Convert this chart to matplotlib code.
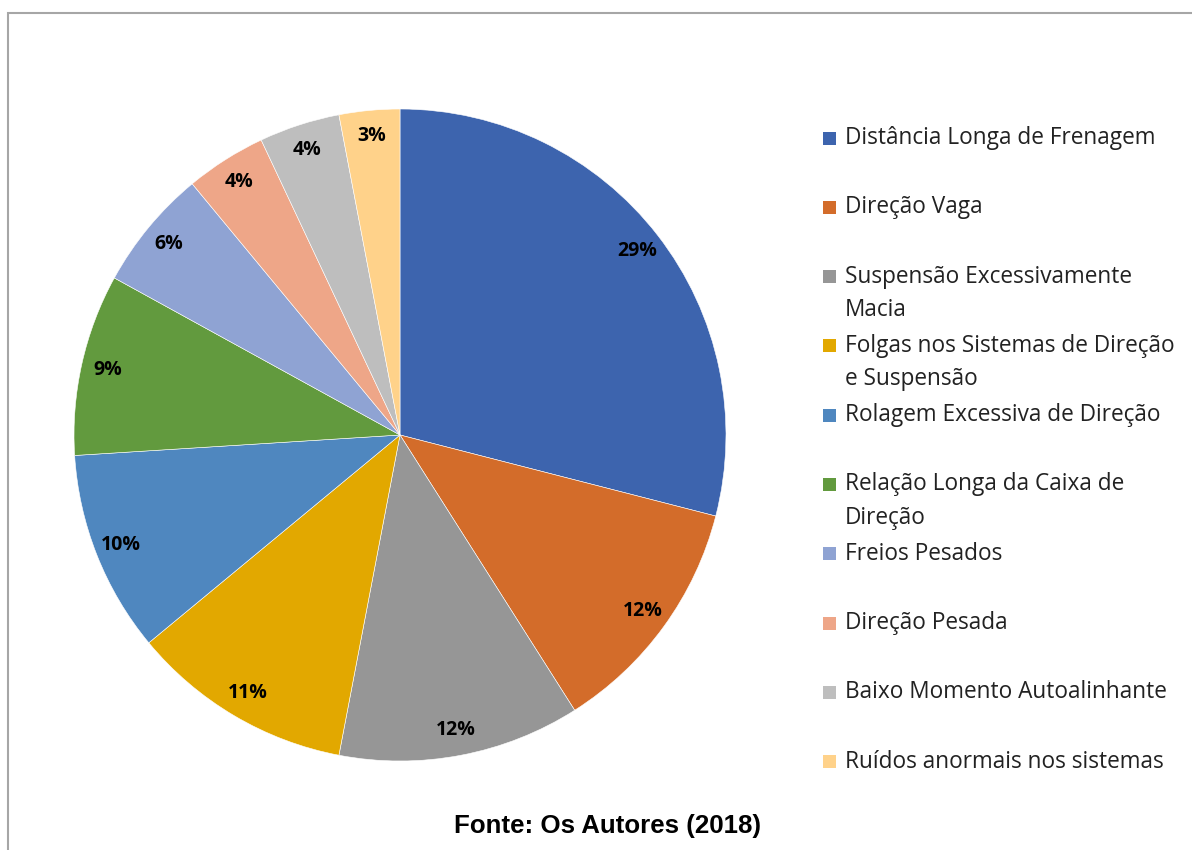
import matplotlib.pyplot as plt
from matplotlib.patches import Rectangle

labels = [
    "Distância Longa de Frenagem",
    "Direção Vaga",
    "Suspensão Excessivamente\nMacia",
    "Folgas nos Sistemas de Direção\ne Suspensão",
    "Rolagem Excessiva de Direção",
    "Relação Longa da Caixa de\nDireção",
    "Freios Pesados",
    "Direção Pesada",
    "Baixo Momento Autoalinhante",
    "Ruídos anormais nos sistemas",
]
values = [29, 12, 12, 11, 10, 9, 6, 4, 4, 3]
colors = ["#3D64AE", "#D36C2A", "#969696", "#E2A800", "#4F87BF",
          "#629A3E", "#8FA3D3", "#EEA688", "#BEBEBE", "#FFD28A"]

W, H = 1192, 850
fig = plt.figure(figsize=(W / 100, H / 100), dpi=100)

# pie centre / radius in pixels
cx, cy, r = 400, 435, 326
ax = fig.add_axes([(cx - r) / W, (H - cy - r) / H, 2 * r / W, 2 * r / H])
wedges, texts, autotexts = ax.pie(
    values, colors=colors, startangle=90, counterclock=False,
    autopct="%.0f%%", pctdistance=0.92,
    wedgeprops=dict(edgecolor="white", linewidth=0.4),
    textprops=dict(fontsize=14, fontweight="bold", color="black", family="Open Sans"),
)
ax.set_xlim(-1, 1)
ax.set_ylim(-1, 1)
ax.set_aspect("equal")
ax.axis("off")

# legend drawn by hand
y0, step, line_h = 138, 69.3, 33
for i, (lab, col) in enumerate(zip(labels, colors)):
    y = y0 + i * step
    fig.add_artist(Rectangle((823 / W, 1 - (y + 6.5) / H), 13 / W, 13 / H,
                             transform=fig.transFigure, color=col, lw=0))
    for k, line in enumerate(lab.split("\n")):
        fig.text(845 / W, 1 - (y + k * line_h) / H, line, fontsize=16.3,
                 family="Open Sans", color="#222222", va="center", ha="left")

fig.text(608 / W, 1 - 826 / H, "Fonte: Os Autores (2018)", fontsize=18.6,
         fontweight="bold", family="Liberation Sans", ha="center", va="center")

# outer frame (cropped on right/bottom)
fig.add_artist(Rectangle((8 / W, -0.1), 1.2, (H - 13) / H + 0.1, fill=False,
                         transform=fig.transFigure, ec="#A6A6A6", lw=1.5))

fig.savefig("out.png", dpi=100)
